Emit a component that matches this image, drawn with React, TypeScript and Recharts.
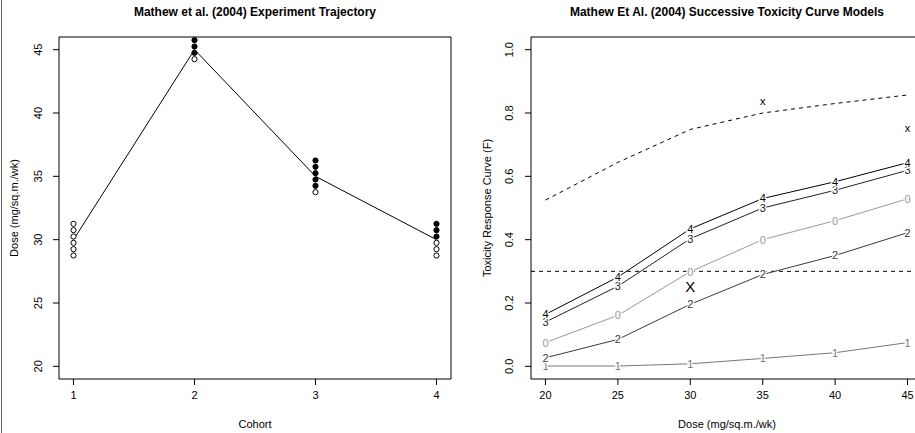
import React from 'react';
import {
  ComposedChart,
  Line,
  Scatter,
  XAxis,
  YAxis,
  ReferenceArea,
  ReferenceLine,
} from 'recharts';

// left panel: dose trajectory per cohort
const cohorts = [1, 2, 3, 4];
const cohortDose = [30, 45, 35, 30];
// patients without toxicity (open) and with toxicity (filled), stacked at each cohort
const openDoses = [
  [28.75, 29.25, 29.75, 30.25, 30.75, 31.25],
  [44.25],
  [33.75],
  [28.75, 29.25, 29.75],
];
const filledDoses = [
  [],
  [44.75, 45.25, 45.75],
  [34.25, 34.75, 35.25, 35.75, 36.25],
  [30.25, 30.75, 31.25],
];
const leftYTicks = [20, 25, 30, 35, 40, 45];

// right panel: successive toxicity curves
const doses = [20, 25, 30, 35, 40, 45];
const upperCurve = [0.525, 0.644, 0.748, 0.8, 0.83, 0.857];
const curve0 = [0.075, 0.161, 0.299, 0.4, 0.46, 0.529];
const curve1 = [0.001, 0.001, 0.008, 0.025, 0.043, 0.075];
const curve2 = [0.027, 0.085, 0.196, 0.29, 0.35, 0.422];
const curve3 = [0.14, 0.253, 0.403, 0.5, 0.556, 0.619];
const curve4 = [0.164, 0.282, 0.434, 0.53, 0.583, 0.643];
const targetTox = 0.3;
const rightYTicks = [0, 0.2, 0.4, 0.6, 0.8, 1.0];
const markerDose = [30, 35, 45];
const markerTox = [0.25, 0.835, 0.752];
const markerText = ['X', 'x', 'x'];
const markerSize = [15, 11, 11];

const FONT = '"Liberation Sans", Arial, Helvetica, sans-serif';

const trajectory = cohorts.map((c, i) => ({ cohort: c, dose: cohortDose[i] }));
const openPts = openDoses.flatMap((ds, i) => ds.map((d) => ({ cohort: cohorts[i], dose: d })));
const filledPts = filledDoses.flatMap((ds, i) => ds.map((d) => ({ cohort: cohorts[i], dose: d })));

const curveRows = doses.map((d, i) => ({
  dose: d,
  upper: upperCurve[i],
  c0: curve0[i],
  c1: curve1[i],
  c2: curve2[i],
  c3: curve3[i],
  c4: curve4[i],
}));
const markers = markerDose.map((d, i) => ({ dose: d, tox: markerTox[i], text: markerText[i], size: markerSize[i] }));

const curves = [
  { key: 'c1', label: '1', color: '#777777' },
  { key: 'c2', label: '2', color: '#3a3a3a' },
  { key: 'c0', label: '0', color: '#999999' },
  { key: 'c3', label: '3', color: '#222222' },
  { key: 'c4', label: '4', color: '#000000' },
];

const XTick = ({ x, y, payload, fmt }: any) => (
  <text x={x} y={y + 12} textAnchor="middle" fontSize={11} fontFamily={FONT} fill="#000">
    {fmt ? fmt(payload.value) : payload.value}
  </text>
);

const YTick = ({ x, y, payload, fmt, off }: any) => (
  <text
    x={x - off}
    y={y}
    transform={`rotate(-90, ${x - off}, ${y})`}
    textAnchor="middle"
    fontSize={11}
    fontFamily={FONT}
    fill="#000"
  >
    {fmt ? fmt(payload.value) : payload.value}
  </text>
);

const Circle = (filled: boolean) => (props: any) => (
  <circle cx={props.cx} cy={props.cy} r={2.6} fill={filled ? '#000' : '#fff'} stroke="#000" strokeWidth={1} />
);

function TrajectoryChart() {
  return (
    <ComposedChart width={460} height={433} margin={{ top: 37, right: 9, bottom: 0, left: 0 }}>
      <XAxis
        type="number"
        dataKey="cohort"
        domain={[0.88, 4.12]}
        ticks={cohorts}
        allowDataOverflow
        height={54}
        axisLine={false}
        tickSize={6}
        tickLine={{ stroke: '#000' }}
        tick={<XTick />}
      />
      <YAxis
        type="number"
        dataKey="dose"
        domain={[19, 46]}
        ticks={leftYTicks}
        allowDataOverflow
        width={59}
        axisLine={false}
        tickSize={6}
        tickLine={{ stroke: '#000' }}
        tick={<YTick off={9} />}
      />
      <ReferenceArea x1={0.88} x2={4.12} y1={19} y2={46} fill="none" stroke="#000" strokeWidth={1} fillOpacity={0} />
      <Line
        data={trajectory}
        dataKey="dose"
        stroke="#000"
        strokeWidth={1}
        dot={false}
        activeDot={false}
        isAnimationActive={false}
      />
      <Scatter data={openPts} shape={Circle(false)} isAnimationActive={false} />
      <Scatter data={filledPts} shape={Circle(true)} isAnimationActive={false} />
    </ComposedChart>
  );
}

const digitDot = (label: string, color: string) => (props: any) => (
  <text
    key={`${label}-${props.index}`}
    x={props.cx}
    y={props.cy}
    dy="0.36em"
    textAnchor="middle"
    fontSize={11}
    fontFamily={FONT}
    fill={color}
    stroke="#fff"
    strokeWidth={2.5}
    paintOrder="stroke"
  >
    {label}
  </text>
);

const MarkerShape = (props: any) => (
  <text
    x={props.cx}
    y={props.cy}
    dy="0.3em"
    textAnchor="middle"
    fontSize={props.payload.size}
    fontFamily={FONT}
    fill="#000"
  >
    {props.payload.text}
  </text>
);

function CurveChart() {
  return (
    <ComposedChart width={472} height={433} data={curveRows} margin={{ top: 37, right: 10, bottom: 0, left: 0 }}>
      <XAxis
        type="number"
        dataKey="dose"
        domain={[19, 46]}
        ticks={doses}
        allowDataOverflow
        height={54}
        axisLine={false}
        tickSize={6}
        tickLine={{ stroke: '#000' }}
        tick={<XTick />}
      />
      <YAxis
        type="number"
        dataKey="tox"
        domain={[-0.04, 1.04]}
        ticks={rightYTicks}
        allowDataOverflow
        width={71}
        axisLine={false}
        tickSize={6}
        tickLine={{ stroke: '#000' }}
        tick={<YTick off={10} fmt={(v: number) => v.toFixed(1)} />}
      />
      <ReferenceArea x1={19} x2={46} y1={-0.04} y2={1.04} fill="none" fillOpacity={0} stroke="#000" strokeWidth={1} />
      <ReferenceLine y={targetTox} stroke="#000" strokeDasharray="4 4" strokeWidth={1} />
      <Line
        dataKey="upper"
        stroke="#000"
        strokeWidth={1}
        strokeDasharray="4 4"
        dot={false}
        activeDot={false}
        isAnimationActive={false}
      />
      {curves.map((c) => (
        <Line
          key={c.key}
          dataKey={c.key}
          stroke={c.color}
          strokeWidth={1}
          dot={digitDot(c.label, c.color)}
          activeDot={false}
          isAnimationActive={false}
        />
      ))}
      <Scatter data={markers} shape={MarkerShape} isAnimationActive={false} />
    </ComposedChart>
  );
}

export default function App() {
  return (
    <div
      style={{
        position: 'fixed',
        left: 0,
        top: 0,
        width: 915,
        height: 433,
        overflow: 'hidden',
        background: '#fff',
        fontFamily: FONT,
      }}
    >
      <div style={{ position: 'absolute', left: 1, top: 0, width: 1, height: 433, background: '#666' }} />
      <div style={{ position: 'absolute', left: 0, top: 0 }}>
        <TrajectoryChart />
      </div>
      <div style={{ position: 'absolute', left: 460, top: 0 }}>
        <CurveChart />
      </div>
      <svg
        width={915}
        height={433}
        style={{ position: 'absolute', left: 0, top: 0, pointerEvents: 'none' }}
        fontFamily={FONT}
      >
        <text x={255} y={16} textAnchor="middle" fontSize={12} fontWeight="bold" fill="#000">
          Mathew et al. (2004) Experiment Trajectory
        </text>
        <text x={727} y={16} textAnchor="middle" fontSize={12} fontWeight="bold" fill="#000">
          Mathew Et Al. (2004) Successive Toxicity Curve Models
        </text>
        <text x={255} y={428} textAnchor="middle" fontSize={11} fill="#000">
          Cohort
        </text>
        <text x={727} y={428} textAnchor="middle" fontSize={11} fill="#000">
          Dose (mg/sq.m./wk)
        </text>
        <text x={18} y={208} transform="rotate(-90, 18, 208)" textAnchor="middle" fontSize={11} fill="#000">
          Dose (mg/sq.m./wk)
        </text>
        <text x={491} y={208} transform="rotate(-90, 491, 208)" textAnchor="middle" fontSize={11} fill="#000">
          Toxicity Response Curve (F)
        </text>
      </svg>
    </div>
  );
}
